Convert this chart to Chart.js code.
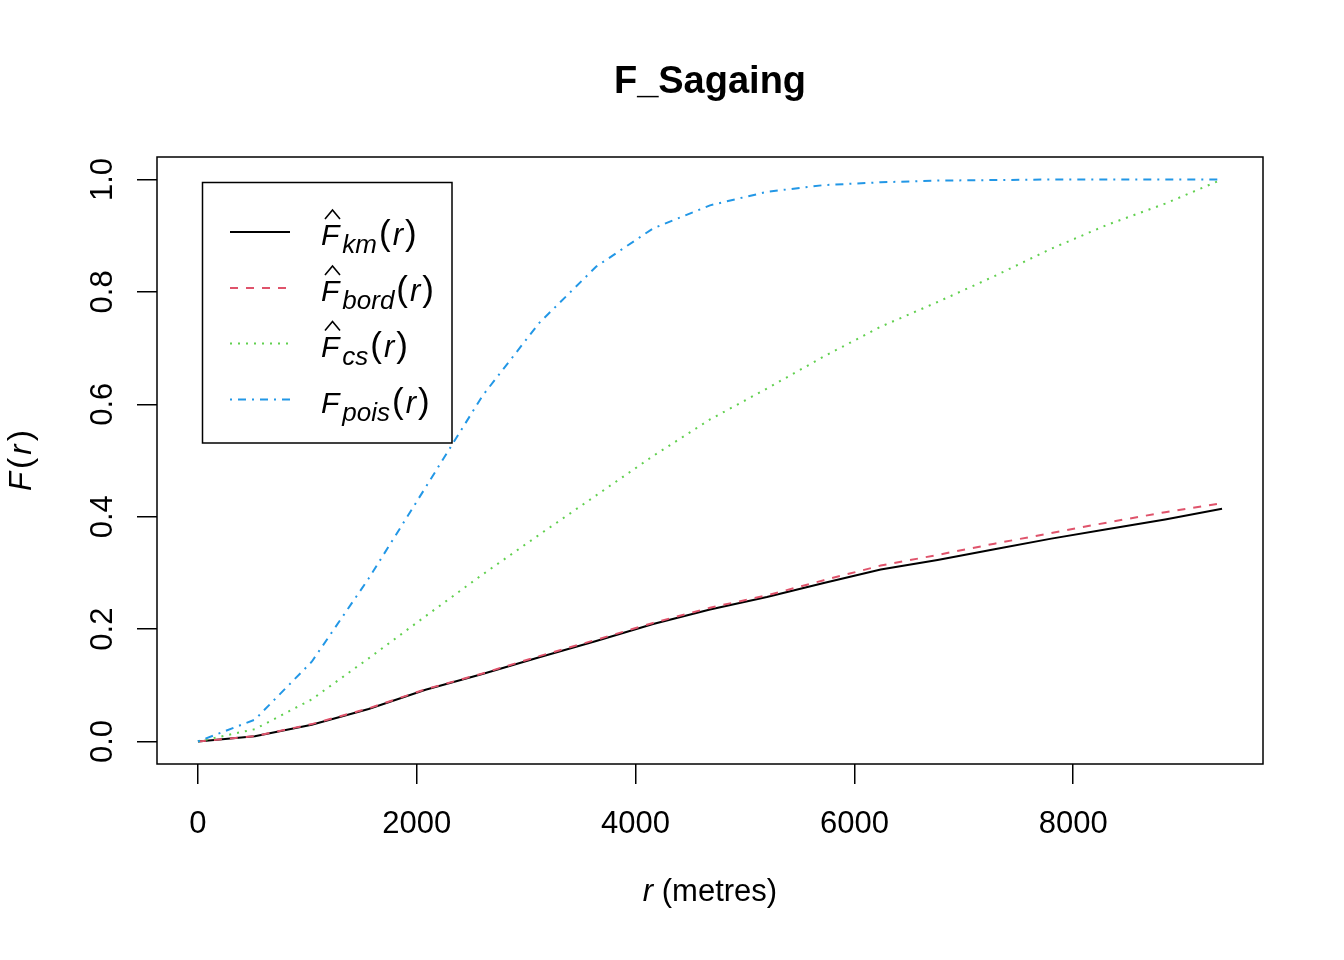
<!DOCTYPE html>
<html>
<head>
<meta charset="utf-8">
<script src="https://cdn.jsdelivr.net/npm/chart.js@4.4.1/dist/chart.umd.min.js"></script>
<style>
html,body{margin:0;padding:0;background:#fff;}
canvas{display:block;}
</style>
</head>
<body>
<canvas id="c" width="1344" height="960"></canvas>
<script>
// ---- data ----
const rValues = [0, 520, 1040, 1560, 2080, 2600, 3120, 3640, 4160, 4680, 5200, 5720, 6240, 6760, 7280, 7800, 8320, 8840, 9360];
const F_km   = [0, 0.0095, 0.030, 0.058, 0.092, 0.120, 0.150, 0.179, 0.209, 0.235, 0.257, 0.282, 0.306, 0.323, 0.342, 0.361, 0.378, 0.395, 0.414];
const F_bord = [0, 0.0095, 0.031, 0.059, 0.093, 0.121, 0.152, 0.181, 0.211, 0.238, 0.260, 0.287, 0.313, 0.332, 0.352, 0.371, 0.390, 0.408, 0.424];
const F_cs   = [0, 0.022, 0.075, 0.148, 0.223, 0.297, 0.368, 0.438, 0.508, 0.573, 0.628, 0.685, 0.738, 0.782, 0.828, 0.877, 0.920, 0.957, 1.000];
const F_pois = [0, 0.039, 0.142, 0.290, 0.452, 0.615, 0.745, 0.845, 0.913, 0.954, 0.978, 0.990, 0.995, 0.998, 0.999, 1.000, 1.000, 1.000, 1.000];
const xTicks = [0, 2000, 4000, 6000, 8000];
const yTicks = [0, 0.2, 0.4, 0.6, 0.8, 1.0];
const yTickLabels = ['0.0', '0.2', '0.4', '0.6', '0.8', '1.0'];
const titleText = 'F_Sagaing';
const seriesNames = ['km', 'bord', 'cs', 'pois'];
const seriesHat = [true, true, true, false];
const seriesColors = ['#000000', '#DF536B', '#61D04F', '#2297E6'];
const seriesDashes = [[], [8, 8], [2, 6], [2, 6, 8, 6]];
const seriesValues = [F_km, F_bord, F_cs, F_pois];

const FONT = '"Liberation Sans", Arial, Helvetica, sans-serif';

const datasets = seriesValues.map((vals, i) => ({
  label: seriesNames[i],
  data: rValues.map((r, j) => ({x: r, y: vals[j]})),
  borderColor: seriesColors[i],
  backgroundColor: seriesColors[i],
  borderWidth: 2,
  borderDash: seriesDashes[i],
  pointRadius: 0,
  tension: 0,
  fill: false,
  order: 4 - i
}));

const decor = {
  id: 'decor',
  afterDraw(chart) {
    const ctx = chart.ctx;
    const a = chart.chartArea;
    const xs = chart.scales.x, ys = chart.scales.y;
    ctx.save();
    // plot box
    ctx.strokeStyle = '#000';
    ctx.lineWidth = 1.5;
    ctx.setLineDash([]);
    ctx.strokeRect(a.left, a.top, a.right - a.left, a.bottom - a.top);

    ctx.fillStyle = '#000';
    // title
    ctx.font = 'bold 38px ' + FONT;
    ctx.textAlign = 'center';
    ctx.textBaseline = 'alphabetic';
    ctx.fillText(titleText, (a.left + a.right) / 2, 93);

    // x tick labels
    ctx.font = '31px ' + FONT;
    xTicks.forEach(v => {
      ctx.fillText(String(v), xs.getPixelForValue(v), 833);
    });
    // y tick labels (rotated)
    yTicks.forEach((v, i) => {
      ctx.save();
      ctx.translate(112, ys.getPixelForValue(v));
      ctx.rotate(-Math.PI / 2);
      ctx.textAlign = 'center';
      ctx.fillText(yTickLabels[i], 0, 0);
      ctx.restore();
    });

    // x axis title: r (metres)
    const cx = (a.left + a.right) / 2;
    ctx.font = 'italic 31px ' + FONT;
    const w1 = ctx.measureText('r').width;
    ctx.font = '31px ' + FONT;
    const w2 = ctx.measureText(' (metres)').width;
    let sx = cx - (w1 + w2) / 2;
    ctx.textAlign = 'left';
    ctx.font = 'italic 31px ' + FONT;
    ctx.fillText('r', sx, 901);
    ctx.font = '31px ' + FONT;
    ctx.fillText(' (metres)', sx + w1, 901);

    // y axis title: F(r)
    ctx.save();
    ctx.translate(31, (a.top + a.bottom) / 2);
    ctx.rotate(-Math.PI / 2);
    const parts = [['F', 'italic 31px ', 3], ['(', '34px ', 3], ['r', 'italic 31px ', 3], [')', '34px ', 0]];
    let tw = 0;
    parts.forEach(p => { ctx.font = p[1] + FONT; tw += ctx.measureText(p[0]).width + p[2]; });
    let px = -tw / 2;
    parts.forEach(p => {
      ctx.font = p[1] + FONT;
      ctx.fillText(p[0], px, 0);
      px += ctx.measureText(p[0]).width + p[2];
    });
    ctx.restore();

    // legend
    ctx.strokeStyle = '#000';
    ctx.lineWidth = 1.5;
    ctx.strokeRect(202.5, 182.5, 249.5, 260.5);
    const rowY = [232, 288, 343.5, 399.5];
    chart.data.datasets.forEach((ds, i) => {
      const y = rowY[i];
      ctx.save();
      ctx.strokeStyle = ds.borderColor;
      ctx.lineWidth = 2;
      ctx.setLineDash(ds.borderDash);
      ctx.beginPath();
      ctx.moveTo(230, y);
      ctx.lineTo(290, y);
      ctx.stroke();
      ctx.restore();

      const base = y + 13;
      let tx = 321;
      ctx.fillStyle = '#000';
      ctx.textAlign = 'left';
      ctx.font = 'italic 30px ' + FONT;
      ctx.fillText('F', tx, base);
      const fw = ctx.measureText('F').width;
      if (seriesHat[i]) {
        ctx.save();
        ctx.strokeStyle = '#000';
        ctx.lineWidth = 1.6;
        ctx.setLineDash([]);
        ctx.beginPath();
        ctx.moveTo(tx + 4, base - 26);
        ctx.lineTo(tx + 11.5, base - 35);
        ctx.lineTo(tx + 19, base - 26);
        ctx.stroke();
        ctx.restore();
      }
      tx += fw + 3;
      ctx.font = 'italic 26px ' + FONT;
      ctx.fillText(ds.label, tx, base + 8);
      tx += ctx.measureText(ds.label).width + 2;
      ctx.font = '35px ' + FONT;
      ctx.fillText('(', tx, base);
      tx += ctx.measureText('(').width + 2;
      ctx.font = 'italic 31px ' + FONT;
      ctx.fillText('r', tx, base);
      tx += ctx.measureText('r').width + 2;
      ctx.font = '35px ' + FONT;
      ctx.fillText(')', tx, base);
    });
    ctx.restore();
  }
};

new Chart(document.getElementById('c'), {
  type: 'line',
  data: { datasets },
  options: {
    responsive: false,
    animation: false,
    devicePixelRatio: 1,
    layout: { padding: { left: 0, right: 81, top: 157, bottom: 0 } },
    plugins: {
      legend: { display: false },
      title: { display: false },
      tooltip: { enabled: false }
    },
    scales: {
      x: {
        type: 'linear',
        min: -374.4,
        max: 9734.4,
        afterBuildTicks: s => { s.ticks = xTicks.map(v => ({value: v})); },
        afterFit: s => { s.height = 196; },
        border: { display: false },
        grid: { display: true, drawOnChartArea: false, drawTicks: true, tickLength: 20, color: '#000', lineWidth: 1.5 },
        ticks: { display: false }
      },
      y: {
        type: 'linear',
        min: -0.04,
        max: 1.04,
        afterBuildTicks: s => { s.ticks = yTicks.map(v => ({value: v})); },
        afterFit: s => { s.width = 157; },
        border: { display: false },
        grid: { display: true, drawOnChartArea: false, drawTicks: true, tickLength: 20, color: '#000', lineWidth: 1.5 },
        ticks: { display: false }
      }
    }
  },
  plugins: [decor]
});
</script>
</body>
</html>
